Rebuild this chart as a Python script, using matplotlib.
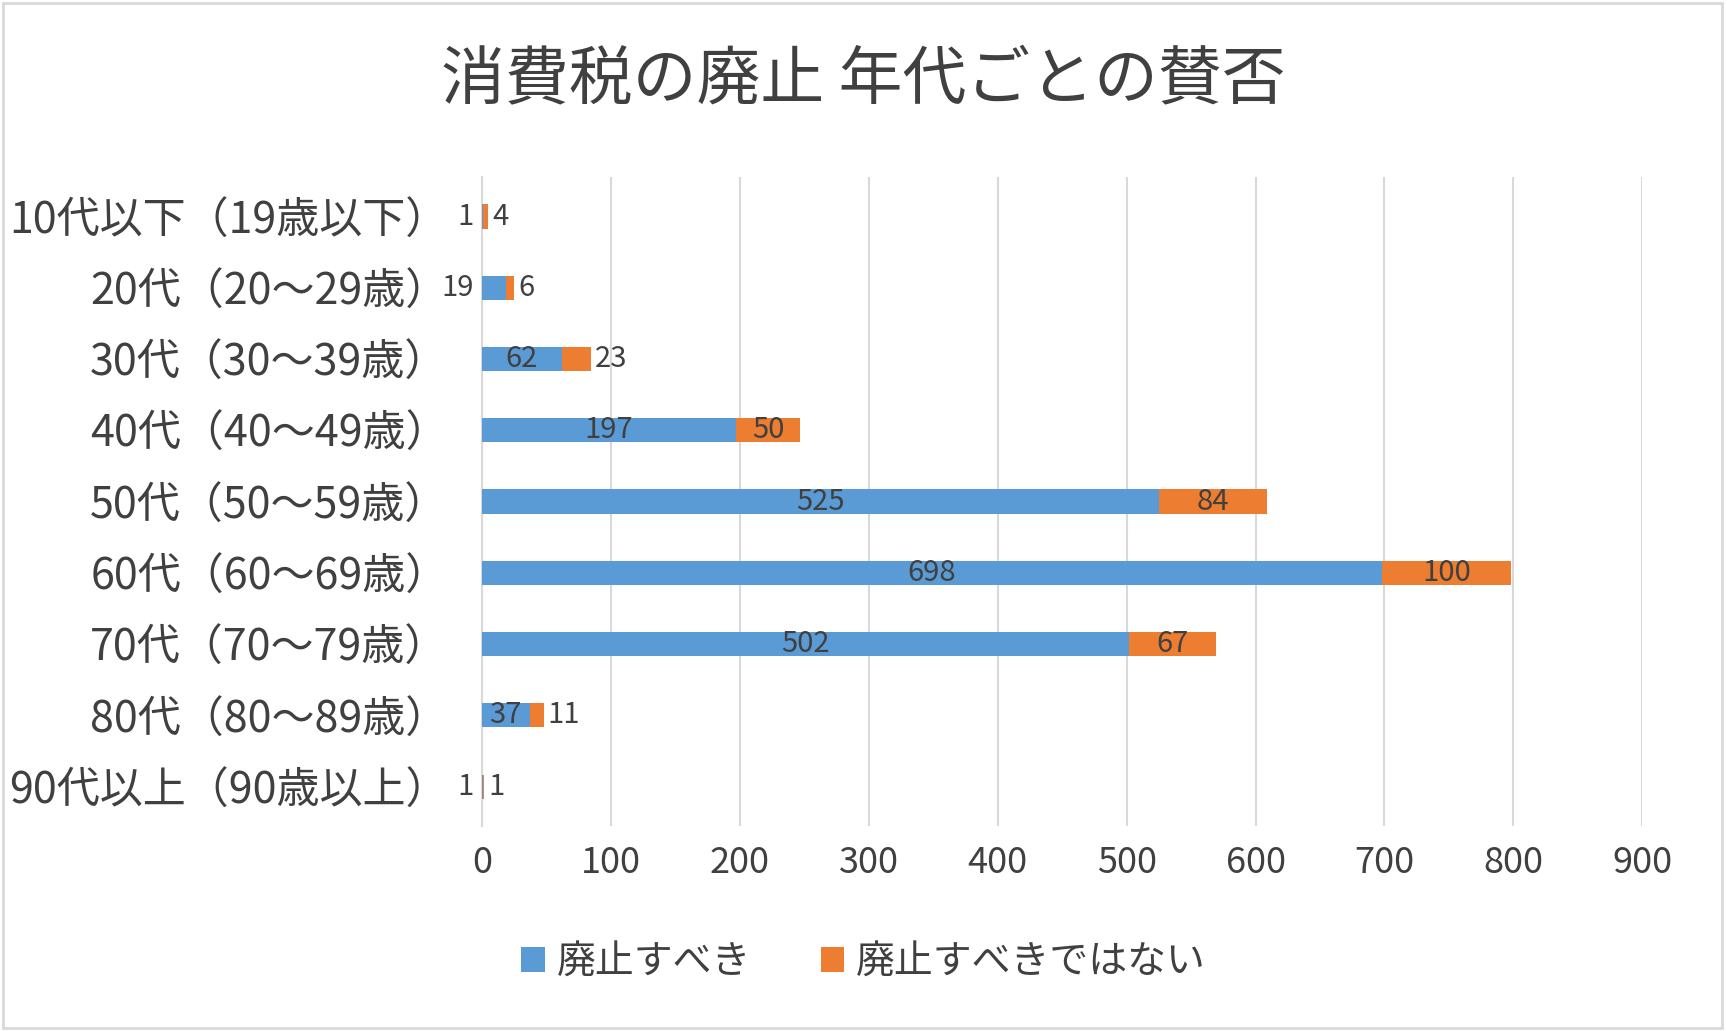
import matplotlib.pyplot as plt
from matplotlib.patches import Rectangle

plt.rcParams['font.family'] = 'Noto Sans CJK JP'

categories = ['10代以下（19歳以下）', '20代（20～29歳）', '30代（30～39歳）', '40代（40～49歳）',
              '50代（50～59歳）', '60代（60～69歳）', '70代（70～79歳）', '80代（80～89歳）',
              '90代以上（90歳以上）']
abolish = [1, 19, 62, 197, 525, 698, 502, 37, 1]
keep = [4, 6, 23, 50, 84, 100, 67, 11, 1]
series_names = ['廃止すべき', '廃止すべきではない']

blue = '#5B9BD5'
orange = '#ED7D31'
txt = '#404040'

fig = plt.figure(figsize=(17.27, 10.31), dpi=100)
ax = fig.add_axes([0.279, 0.199, 0.672, 0.629])
y = list(range(len(categories)))
h = 0.34
ax.barh(y, abolish, height=h, color=blue, label=series_names[0], zorder=3)
ax.barh(y, keep, left=abolish, height=h, color=orange, label=series_names[1], zorder=3)

for i in y:
    a, k = abolish[i], keep[i]
    if a >= 30:
        ax.text(a / 2, i, str(a), ha='center', va='center', fontsize=21, color=txt, zorder=4)
    else:
        ax.text(-6, i, str(a), ha='right', va='center', fontsize=21, color=txt, zorder=4)
    if k >= 40:
        ax.text(a + k / 2, i, str(k), ha='center', va='center', fontsize=21, color=txt, zorder=4)
    else:
        ax.text(a + k + 3, i, str(k), ha='left', va='center', fontsize=21, color=txt, zorder=4)

ax.set_xlim(0, 900)
ax.set_ylim(len(categories) - 0.45, -0.55)
ax.set_xticks(range(0, 901, 100))
ax.set_yticks(y)
ax.set_yticklabels(categories)
ax.tick_params(axis='x', labelsize=26, colors=txt, length=0, pad=14)
ax.tick_params(axis='y', labelsize=31, colors=txt, length=0, pad=24)
ax.grid(axis='x', color='#D9D9D9', linewidth=1.5, zorder=0)
for s in ['top', 'right', 'bottom']:
    ax.spines[s].set_visible(False)
ax.spines['left'].set_color('#D9D9D9')
ax.spines['left'].set_linewidth(1.5)

fig.text(0.5, 0.922, '消費税の廃止 年代ごとの賛否', ha='center', va='center', fontsize=46, color=txt)
fig.legend(loc='center', bbox_to_anchor=(0.5, 0.067), ncol=2, frameon=False, fontsize=28,
           labelcolor=txt, handlelength=0.6, handleheight=0.6, handletextpad=0.3, columnspacing=1.8)
fig.patches.append(Rectangle((0.002, 0.003), 0.995, 0.994, transform=fig.transFigure,
                             fill=False, edgecolor='#D9D9D9', linewidth=2))
fig.savefig('out.png', dpi=100)
